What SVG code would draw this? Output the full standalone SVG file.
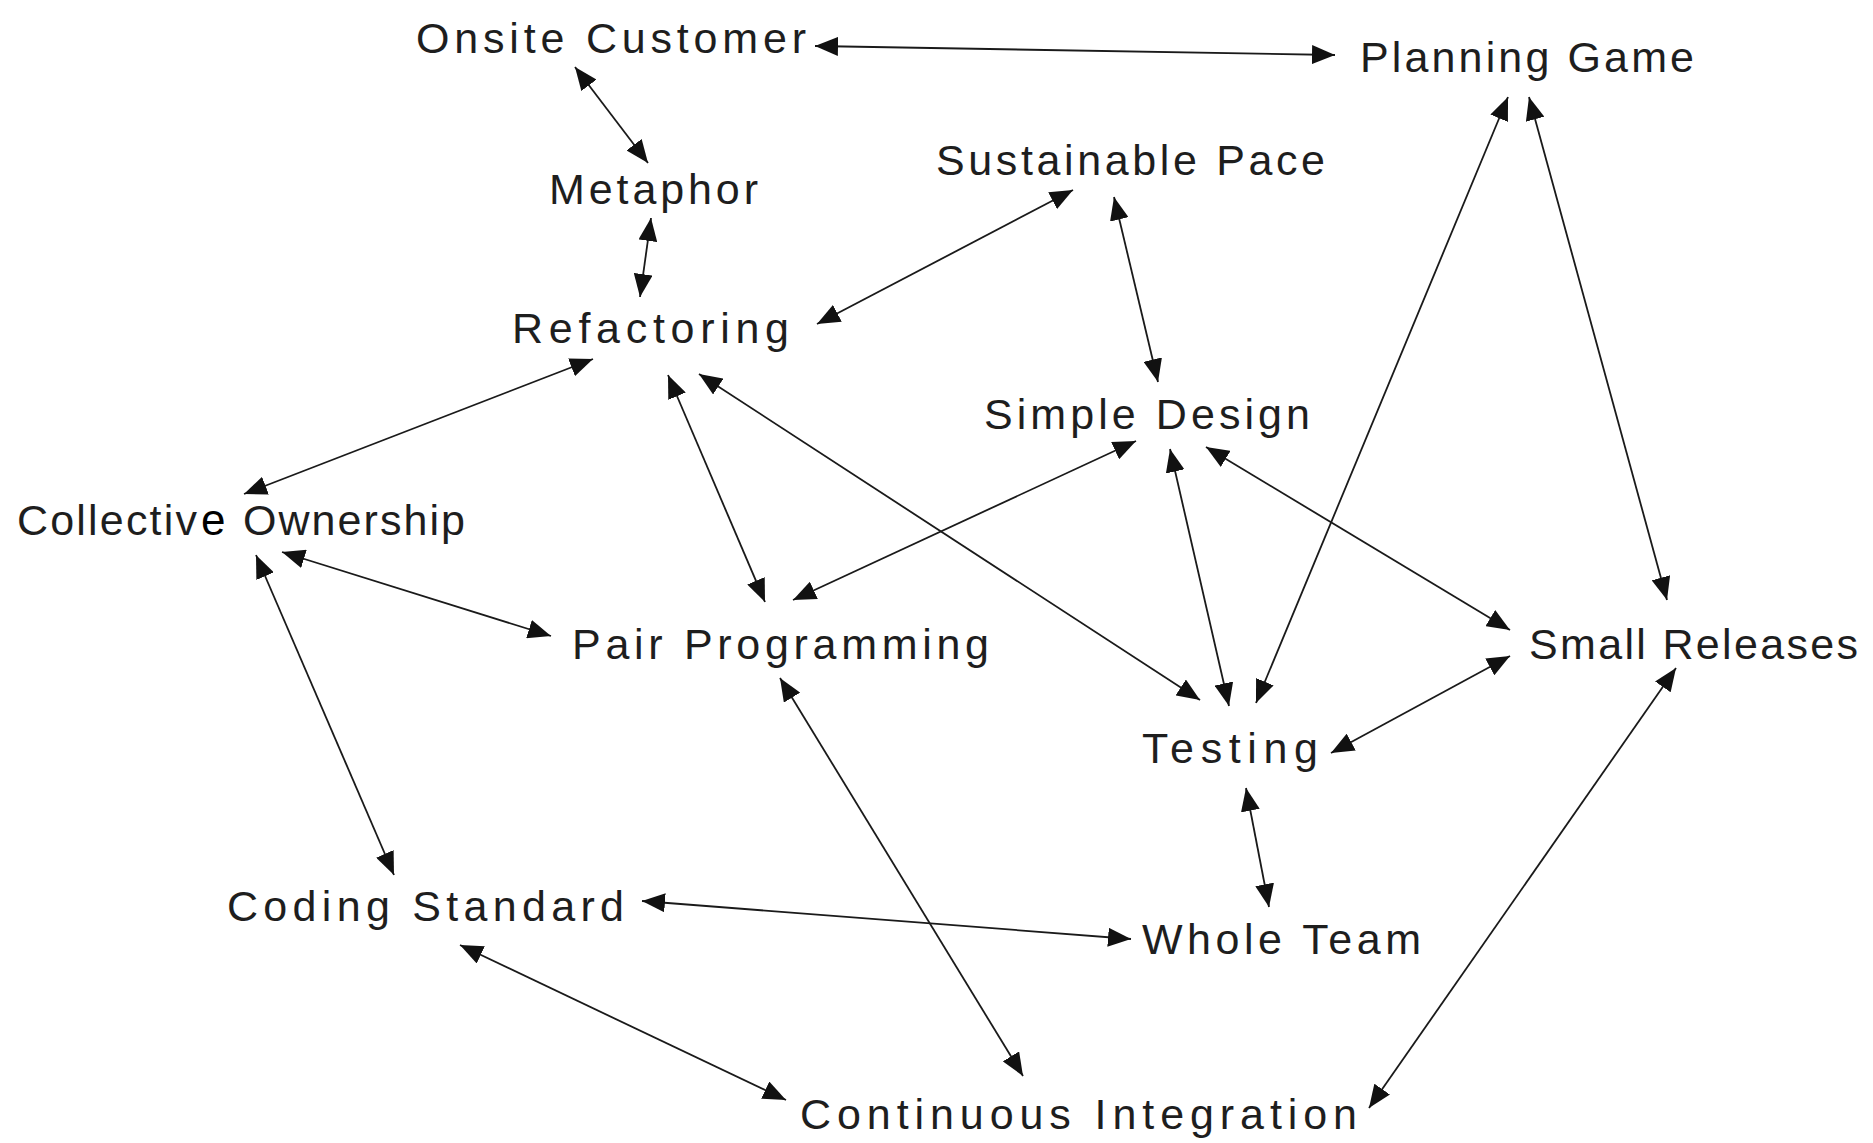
<svg xmlns="http://www.w3.org/2000/svg" width="1873" height="1143" viewBox="0 0 1873 1143">
  <style>
    .lbl { font-family: "Liberation Sans", "Noto Sans", sans-serif; font-size: 43px; fill: #1e1e1e; }
    .plain { font-family: "Liberation Sans", Arial, sans-serif; font-size: 44px; fill: #000; }
    .link { stroke: #1a1a1a; stroke-width: 1.8; fill: none; marker-start: url(#head); marker-end: url(#head); }
  </style>
  <defs>
    <!-- filled triangular arrowhead, drawn at both ends of every link -->
    <marker id="head" markerUnits="userSpaceOnUse" markerWidth="23" markerHeight="19" refX="23" refY="9.5" orient="auto-start-reverse" viewBox="0 0 23 19">
      <path d="M0,0 L23,9.5 L0,19 z" fill="#111"/>
    </marker>
  </defs>
  <rect width="1873" height="1143" fill="#fff"/>

  <g id="connectors">
    <line class="link" x1="815" y1="46" x2="1335" y2="55"/>
    <line class="link" x1="575" y1="67" x2="648" y2="163"/>
    <line class="link" x1="651" y1="218" x2="640" y2="297"/>
    <line class="link" x1="1073" y1="190" x2="817" y2="324"/>
    <line class="link" x1="1114" y1="197" x2="1158" y2="382"/>
    <line class="link" x1="593" y1="359" x2="244" y2="494"/>
    <line class="link" x1="668" y1="375" x2="765" y2="602"/>
    <line class="link" x1="699" y1="374" x2="1200" y2="700"/>
    <line class="link" x1="1136" y1="441" x2="793" y2="600"/>
    <line class="link" x1="1170" y1="449" x2="1229" y2="706"/>
    <line class="link" x1="1206" y1="447" x2="1510" y2="630"/>
    <line class="link" x1="1508" y1="97" x2="1256" y2="703"/>
    <line class="link" x1="1529" y1="97" x2="1667" y2="600"/>
    <line class="link" x1="1331" y1="753" x2="1510" y2="656"/>
    <line class="link" x1="1246" y1="788" x2="1269" y2="907"/>
    <line class="link" x1="282" y1="552" x2="551" y2="636"/>
    <line class="link" x1="256" y1="555" x2="394" y2="875"/>
    <line class="link" x1="642" y1="901" x2="1131" y2="939"/>
    <line class="link" x1="460" y1="945" x2="786" y2="1100"/>
    <line class="link" x1="780" y1="678" x2="1023" y2="1076"/>
    <line class="link" x1="1676" y1="668" x2="1369" y2="1108"/>
  </g>

  <g id="onsite-customer"><text class="lbl" x="416" y="53" textLength="390" lengthAdjust="spacing">Onsite Customer</text></g>
  <g id="planning-game"><text class="lbl" x="1360" y="72" textLength="334" lengthAdjust="spacing">Planning Game</text></g>
  <g id="metaphor"><text class="lbl" x="549" y="204" textLength="209" lengthAdjust="spacing">Metaphor</text></g>
  <g id="sustainable-pace"><text class="lbl" x="936" y="175" textLength="389" lengthAdjust="spacing">Sustainable Pace</text></g>
  <g id="refactoring"><text class="lbl" x="512" y="343" textLength="277" lengthAdjust="spacing">Refactoring</text></g>
  <g id="simple-design"><text class="lbl" x="984" y="429" textLength="326" lengthAdjust="spacing">Simple Design</text></g>
  <g id="collective-ownership"><text class="lbl" y="535"><tspan x="17" textLength="180" lengthAdjust="spacing">Collectiv</tspan><tspan class="plain" x="201">e</tspan><tspan x="243" textLength="222" lengthAdjust="spacing">Ownership</tspan></text></g>
  <g id="pair-programming"><text class="lbl" x="572" y="659" textLength="417" lengthAdjust="spacing">Pair Programming</text></g>
  <g id="small-releases"><text class="lbl" x="1529" y="659" textLength="329" lengthAdjust="spacing">Small Releases</text></g>
  <g id="testing"><text class="lbl" x="1142" y="763" textLength="176" lengthAdjust="spacing">Testing</text></g>
  <g id="coding-standard"><text class="lbl" x="227" y="921" textLength="397" lengthAdjust="spacing">Coding Standard</text></g>
  <g id="whole-team"><text class="lbl" x="1142" y="954" textLength="279" lengthAdjust="spacing">Whole Team</text></g>
  <g id="continuous-integration"><text class="lbl" x="800" y="1129" textLength="557" lengthAdjust="spacing">Continuous Integration</text></g>
</svg>
